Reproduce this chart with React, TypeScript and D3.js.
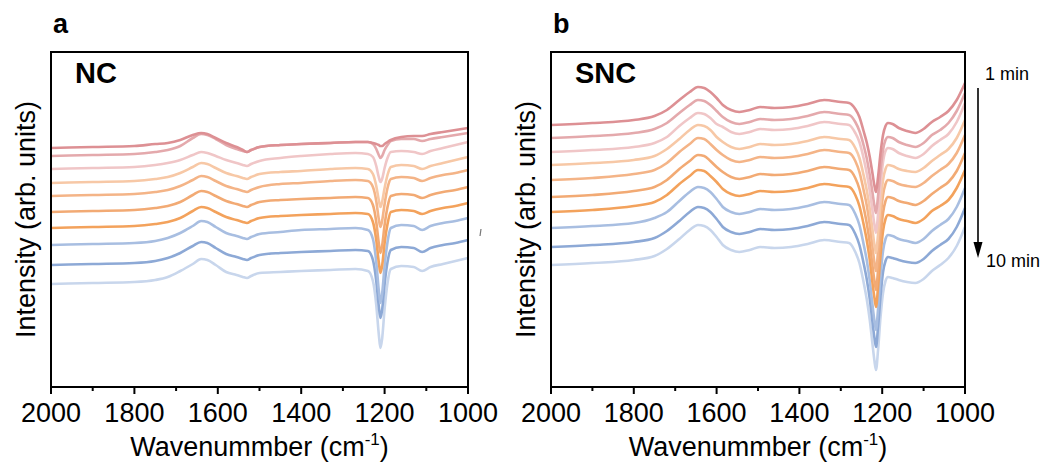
import React from 'react'
import * as d3 from 'd3'

// wavenumber grids (cm-1) for each panel
const WN_NC = [2000, 1900, 1800, 1750, 1720, 1690, 1660, 1640, 1625, 1605, 1580, 1555, 1540, 1530, 1520, 1500, 1450, 1400, 1330, 1270, 1240, 1228, 1220, 1214, 1210, 1206, 1200, 1193, 1185, 1160, 1130, 1110, 1090, 1060, 1030, 1000]
const WN_SNC = [2000, 1900, 1800, 1750, 1720, 1690, 1665, 1645, 1630, 1615, 1600, 1585, 1565, 1545, 1520, 1495, 1460, 1420, 1380, 1340, 1300, 1280, 1265, 1255, 1245, 1237, 1230, 1224, 1219, 1215, 1210, 1204, 1198, 1192, 1186, 1175, 1160, 1140, 1120, 1100, 1080, 1060, 1040, 1020, 1000]

// intensity (offset, arb. units), 1 min ... 10 min
const NC_1 = [238, 239, 240, 242, 243, 246, 251, 253, 252, 248, 243, 239, 236, 234, 236, 239, 241, 242, 243, 244, 244, 243, 242, 241, 240, 240, 242, 244, 246, 249, 250, 250, 252, 254, 256, 258]
const NC_2 = [230, 231, 232, 234, 236, 240, 248, 252, 251, 247, 241, 237, 235, 234, 236, 239, 241, 242, 243, 244, 244, 242, 237, 231, 228, 230, 236, 241, 245, 247, 247, 245, 247, 249, 251, 253]
const NC_3 = [217, 218, 219, 221, 223, 226, 231, 234, 233, 230, 226, 223, 221, 220, 222, 225, 228, 230, 232, 233, 232, 229, 220, 209, 204, 207, 218, 228, 234, 235, 234, 232, 235, 238, 241, 244]
const NC_4 = [203, 204, 205, 207, 209, 213, 219, 223, 222, 218, 213, 210, 208, 207, 209, 212, 214, 215, 217, 218, 217, 212, 200, 186, 179, 184, 198, 211, 219, 221, 220, 217, 220, 223, 226, 229]
const NC_5 = [190, 191, 192, 194, 196, 200, 206, 210, 209, 205, 200, 197, 195, 194, 196, 199, 202, 203, 205, 206, 205, 199, 185, 167, 159, 165, 182, 198, 207, 209, 208, 205, 208, 211, 213, 216]
const NC_6 = [174, 175, 176, 178, 180, 184, 191, 195, 194, 190, 185, 182, 180, 179, 181, 184, 186, 187, 188, 189, 188, 181, 164, 143, 133, 140, 161, 179, 190, 192, 191, 188, 191, 194, 196, 199]
const NC_7 = [158, 159, 160, 162, 164, 168, 175, 179, 178, 174, 169, 166, 164, 163, 165, 168, 170, 171, 172, 173, 172, 164, 146, 124, 113, 120, 143, 162, 174, 176, 175, 172, 175, 178, 180, 183]
const NC_8 = [141, 142, 143, 145, 148, 153, 160, 165, 164, 159, 153, 150, 148, 147, 149, 152, 154, 156, 157, 158, 156, 147, 124, 96, 83, 92, 120, 144, 158, 161, 160, 156, 160, 163, 165, 168]
const NC_9 = [121, 122, 123, 125, 128, 133, 140, 144, 143, 138, 132, 129, 127, 126, 128, 131, 133, 134, 135, 136, 135, 126, 105, 80, 68, 76, 102, 124, 136, 139, 138, 134, 138, 141, 143, 146]
const NC_10 = [102, 103, 104, 106, 109, 115, 122, 127, 126, 121, 114, 111, 109, 108, 110, 113, 114, 115, 116, 117, 115, 105, 81, 52, 38, 47, 77, 103, 117, 120, 119, 115, 119, 122, 125, 128]

const SNC_1 = [261, 263, 266, 270, 276, 286, 294, 299, 298, 294, 288, 281, 276, 274, 276, 279, 278, 279, 282, 286, 284, 283, 277, 269, 255, 243, 229, 214, 201, 194, 209, 233, 251, 260, 263, 262, 258, 255, 253, 257, 264, 269, 275, 286, 303]
const SNC_2 = [248, 250, 253, 257, 263, 273, 281, 286, 285, 281, 275, 269, 264, 262, 264, 267, 266, 267, 270, 274, 272, 271, 264, 255, 241, 227, 211, 195, 181, 173, 190, 216, 236, 246, 249, 248, 244, 241, 239, 243, 251, 256, 263, 275, 293]
const SNC_3 = [234, 236, 239, 243, 249, 260, 268, 273, 272, 268, 262, 259, 254, 252, 254, 257, 256, 257, 260, 264, 262, 261, 253, 244, 228, 212, 195, 177, 162, 153, 172, 201, 224, 235, 238, 237, 233, 230, 228, 232, 240, 246, 252, 264, 283]
const SNC_4 = [221, 223, 226, 230, 237, 247, 256, 261, 260, 256, 249, 244, 239, 237, 239, 242, 241, 242, 245, 249, 247, 246, 238, 228, 211, 195, 177, 158, 142, 133, 152, 183, 206, 217, 221, 220, 217, 215, 214, 218, 225, 231, 237, 248, 266]
const SNC_5 = [206, 208, 212, 216, 223, 234, 242, 248, 247, 242, 236, 231, 226, 224, 226, 229, 228, 229, 232, 236, 234, 233, 225, 214, 196, 180, 161, 141, 124, 115, 135, 167, 191, 202, 206, 205, 202, 200, 199, 203, 210, 216, 222, 233, 251]
const SNC_6 = [189, 191, 195, 199, 206, 217, 225, 231, 230, 225, 219, 214, 209, 207, 209, 212, 211, 212, 215, 219, 217, 216, 208, 197, 179, 162, 143, 122, 106, 96, 116, 149, 173, 185, 189, 188, 185, 183, 181, 185, 192, 198, 204, 215, 233]
const SNC_7 = [174, 176, 180, 184, 191, 202, 210, 216, 215, 210, 204, 197, 192, 190, 192, 195, 194, 195, 198, 202, 200, 199, 191, 180, 162, 145, 126, 105, 89, 79, 99, 131, 155, 167, 171, 170, 167, 165, 163, 167, 175, 180, 186, 198, 216]
const SNC_8 = [158, 160, 163, 168, 174, 185, 194, 199, 198, 194, 187, 179, 174, 172, 174, 177, 176, 177, 180, 184, 182, 181, 172, 161, 142, 125, 105, 83, 66, 56, 77, 110, 135, 147, 151, 150, 147, 145, 143, 147, 155, 161, 167, 179, 198]
const SNC_9 = [139, 141, 144, 148, 155, 165, 174, 179, 178, 174, 167, 159, 154, 152, 154, 157, 156, 157, 160, 164, 162, 161, 152, 141, 123, 106, 87, 66, 49, 39, 59, 90, 114, 125, 129, 128, 126, 124, 123, 127, 135, 141, 147, 159, 178]
const SNC_10 = [121, 123, 126, 130, 137, 147, 156, 161, 160, 156, 149, 141, 136, 134, 136, 139, 138, 139, 142, 146, 144, 143, 134, 123, 104, 86, 66, 44, 26, 16, 36, 69, 93, 105, 109, 108, 106, 104, 103, 107, 115, 121, 128, 140, 159]

const NC_SERIES = [NC_1, NC_2, NC_3, NC_4, NC_5, NC_6, NC_7, NC_8, NC_9, NC_10]
const SNC_SERIES = [SNC_1, SNC_2, SNC_3, SNC_4, SNC_5, SNC_6, SNC_7, SNC_8, SNC_9, SNC_10]

const COLORS = ['#dd9094', '#e4a9ac', '#f0c6c7', '#f7c8a6', '#f4b487', '#f2aa74', '#f3a25c', '#a8bee1', '#8da9d6', '#c8d6ec']
const MAJOR_TICKS = [2000, 1800, 1600, 1400, 1200, 1000]
const MINOR_TICKS = [1900, 1700, 1500, 1300, 1100]
const TIME_LABELS = ['1 min', '10 min']

const FONT = 'Liberation Sans, Arial, sans-serif'
const TOP = 52
const BOTTOM = 387

function Panel({ x0, x1, letter, name, wn, series }) {
  const x = d3.scaleLinear().domain([2000, 1000]).range([x0, x1])
  const y = d3.scaleLinear().domain([0, 334]).range([386, TOP])
  const line = d3.line<number>()
    .x((_, i) => x(wn[i]))
    .y(d => y(d))
    .curve(d3.curveMonotoneX)
  const midX = (x0 + x1) / 2
  const midY = (TOP + BOTTOM) / 2

  return (
    <g>
      <text x={x0 + 2} y={33} fontFamily={FONT} fontWeight="bold" fontSize={27}>{letter}</text>
      {series.map((s, i) => i).reverse().map(i => (
        <path
          key={i}
          d={line(series[i])}
          fill="none"
          stroke={COLORS[i]}
          strokeWidth={2.6}
          strokeLinejoin="round"
        />
      ))}
      <rect x={x0} y={TOP} width={x1 - x0} height={BOTTOM - TOP} fill="none" stroke="#000" strokeWidth={2} />
      <text x={x0 + 24} y={83} fontFamily={FONT} fontWeight="bold" fontSize={29}>{name}</text>
      {MAJOR_TICKS.map(t => (
        <g key={t}>
          <line x1={x(t)} x2={x(t)} y1={BOTTOM} y2={BOTTOM + 7} stroke="#000" strokeWidth={2} />
          <text x={x(t)} y={422} textAnchor="middle" fontFamily={FONT} fontSize={27}>{t}</text>
        </g>
      ))}
      {MINOR_TICKS.map(t => (
        <line key={t} x1={x(t)} x2={x(t)} y1={BOTTOM} y2={BOTTOM + 4} stroke="#000" strokeWidth={2} />
      ))}
      <text x={midX} y={456} textAnchor="middle" fontFamily={FONT} fontSize={27}>
        Wavenummber (cm<tspan dy={-11} fontSize={17}>-1</tspan><tspan dy={11}>)</tspan>
      </text>
      <text
        transform={`translate(${x0 - 16},${midY}) rotate(-90)`}
        textAnchor="middle"
        fontFamily={FONT}
        fontSize={27}
      >
        Intensity (arb. units)
      </text>
    </g>
  )
}

export default function App() {
  return (
    <svg width={1049} height={466} style={{ position: 'absolute', left: 0, top: 0, background: '#fff' }}>
      <Panel x0={51} x1={468} letter="a" name="NC" wn={WN_NC} series={NC_SERIES} />
      <Panel x0={551} x1={965} letter="b" name="SNC" wn={WN_SNC} series={SNC_SERIES} />
      <line x1={481} x2={480} y1={229} y2={236} stroke="#777" strokeWidth={1.2} />
      <text x={985} y={80} fontFamily={FONT} fontSize={18}>{TIME_LABELS[0]}</text>
      <line x1={978} x2={978} y1={88} y2={244} stroke="#000" strokeWidth={1.6} />
      <path d="M973.5,242 L982.5,242 L978,258 Z" fill="#000" />
      <text x={986} y={267} fontFamily={FONT} fontSize={18}>{TIME_LABELS[1]}</text>
    </svg>
  )
}
